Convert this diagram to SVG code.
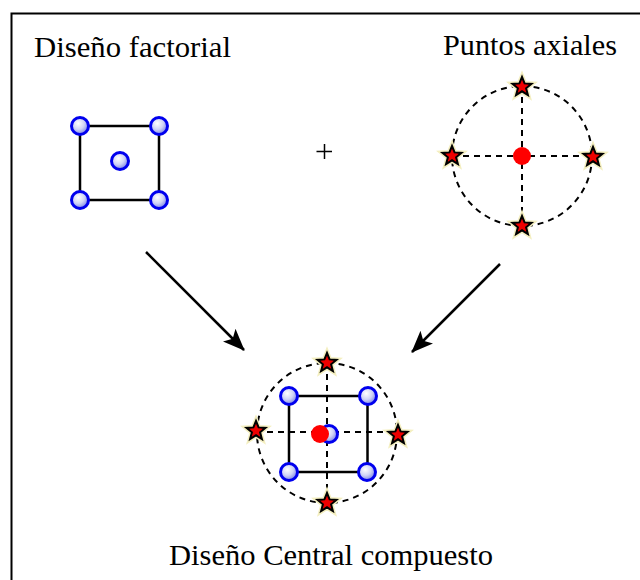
<svg xmlns="http://www.w3.org/2000/svg" width="640" height="580" viewBox="0 0 640 580">
<defs>
<radialGradient id="bg" cx="0.4" cy="0.35" r="0.7">
<stop offset="0" stop-color="#ffffff"/>
<stop offset="0.5" stop-color="#d0d4f6"/>
<stop offset="1" stop-color="#6f78e2"/>
</radialGradient>
<marker id="ah" viewBox="0 0 22 18" refX="21" refY="9" markerWidth="22" markerHeight="18" markerUnits="userSpaceOnUse" orient="auto">
<path d="M0,0 L22,9 L0,18 L5,9 Z" fill="#000"/>
</marker>
<path id="star" d="M0,-10 L2.6,-3.6 L9.5,-3.1 L4.1,1.3 L5.9,8.1 L0,4.3 L-5.9,8.1 L-4.1,1.3 L-9.5,-3.1 L-2.6,-3.6 Z"/>
</defs>
<style>
.t{font-family:"Liberation Serif","Times New Roman",serif;font-size:30px;fill:#000}
.sq{fill:none;stroke:#000;stroke-width:2.5}
.dash{fill:none;stroke:#000;stroke-width:2;stroke-dasharray:6,5}
.bp{fill:url(#bg);stroke:#0000ee;stroke-width:3}
.st{fill:#ee0000;stroke:#000;stroke-width:2;stroke-linejoin:miter}
.sth{fill:none;stroke:#f4efc0;stroke-width:5}
.rd{fill:#ff0000}
.ar{stroke:#000;stroke-width:2.5;fill:none}
</style>
<rect x="11.5" y="13.5" width="640" height="580" fill="none" stroke="#000" stroke-width="2"/>
<g id="label-factorial"><text class="t" x="34" y="57" textLength="197" lengthAdjust="spacingAndGlyphs">Diseño factorial</text></g>
<g id="label-axiales"><text class="t" x="443" y="55" textLength="174" lengthAdjust="spacingAndGlyphs">Puntos axiales</text></g>
<g id="label-central"><text class="t" x="169" y="565" textLength="324" lengthAdjust="spacingAndGlyphs">Diseño Central compuesto</text></g>
<g id="plus"><path d="M316.5,151.5 H332 M324.5,144 V159" stroke="#000" stroke-width="1.5"/></g>
<g id="factorial">
<rect class="sq" x="80" y="126" width="79" height="74"/>
<circle class="bp" cx="80" cy="126" r="8.5"/>
<circle class="bp" cx="159" cy="126" r="8.5"/>
<circle class="bp" cx="80" cy="200" r="8.5"/>
<circle class="bp" cx="159" cy="200" r="8.5"/>
<circle class="bp" cx="120" cy="161" r="8.5"/>
</g>
<g id="axiales">
<circle class="dash" cx="522" cy="156" r="70"/>
<path class="dash" d="M522,86 V226 M452,156 H593"/>
<circle class="rd" cx="522" cy="156" r="9"/>
<g transform="translate(522,87)"><use href="#star" class="sth"/><use href="#star" class="st"/></g>
<g transform="translate(452,156)"><use href="#star" class="sth"/><use href="#star" class="st"/></g>
<g transform="translate(593,157)"><use href="#star" class="sth"/><use href="#star" class="st"/></g>
<g transform="translate(522,226)"><use href="#star" class="sth"/><use href="#star" class="st"/></g>
</g>
<g id="central">
<circle class="dash" cx="327" cy="433" r="70"/>
<rect class="sq" x="289" y="396" width="78.5" height="76"/>
<path class="dash" d="M327,363 V503 M256,432 H398"/>
<circle class="bp" cx="289" cy="396" r="8.5"/>
<circle class="bp" cx="368" cy="396" r="8.5"/>
<circle class="bp" cx="289" cy="472" r="8.5"/>
<circle class="bp" cx="367" cy="472" r="8.5"/>
<circle class="bp" cx="329" cy="434" r="8.5"/>
<circle class="rd" cx="320" cy="434" r="9"/>
<g transform="translate(327,363)"><use href="#star" class="sth"/><use href="#star" class="st"/></g>
<g transform="translate(256,431)"><use href="#star" class="sth"/><use href="#star" class="st"/></g>
<g transform="translate(398,435)"><use href="#star" class="sth"/><use href="#star" class="st"/></g>
<g transform="translate(327,503)"><use href="#star" class="sth"/><use href="#star" class="st"/></g>
</g>
<g id="connectors">
<line class="ar" x1="146" y1="252" x2="244" y2="350" marker-end="url(#ah)"/>
<line class="ar" x1="500" y1="264" x2="412" y2="352" marker-end="url(#ah)"/>
</g>
</svg>
